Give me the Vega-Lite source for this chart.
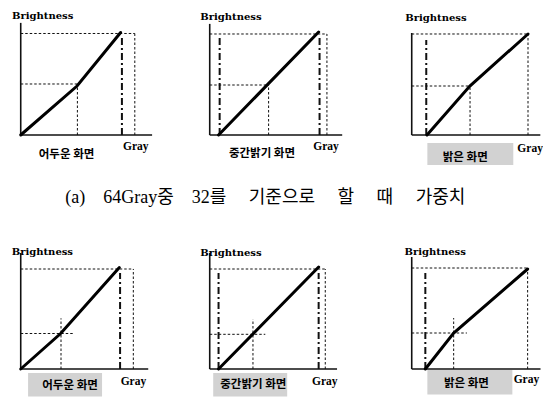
{
  "$schema": "https://vega.github.io/schema/vega-lite/v6.json",
  "padding": {"left": 6, "top": 8, "right": 0, "bottom": 0},
  "background": "white",
  "config": {"view": {"stroke": null}, "axis": {"disable": true}, "legend": {"disable": true}},
  "data": {"values": [
    {"p":1,"kind":"axis","x":0,"y":0,"x2":0,"y2":111},
    {"p":1,"kind":"axis","x":0,"y":0,"x2":71.4,"y2":0},
    {"p":1,"kind":"guide","x":0,"y":100.5,"x2":62,"y2":100.5},
    {"p":1,"kind":"guide","x":62,"y":0,"x2":62,"y2":100.5},
    {"p":1,"kind":"guide","x":0,"y":50.5,"x2":30.8,"y2":50.5},
    {"p":1,"kind":"guide","x":30.8,"y":0,"x2":30.8,"y2":50.5},
    {"p":1,"kind":"dashdot","x":55,"y":0,"x2":55,"y2":96},
    {"p":1,"kind":"curve","x":0,"y":0},
    {"p":1,"kind":"curve","x":30.6,"y":48.5},
    {"p":1,"kind":"curve","x":54.3,"y":101.5},
    {"p":1,"kind":"label","x":-4.7,"y":117.5,"label":"Brightness"},
    {"p":1,"kind":"xlabel","x":55.6,"y":-11.5,"label":"Gray"},
    {"p":1,"kind":"name","x":24.9,"y":-19.5,"label":"어두운 화면"},

    {"p":2,"kind":"axis","x":0,"y":0,"x2":0,"y2":110},
    {"p":2,"kind":"axis","x":0,"y":0,"x2":72,"y2":0},
    {"p":2,"kind":"guide","x":0,"y":100,"x2":63.7,"y2":100},
    {"p":2,"kind":"guide","x":63.7,"y":0,"x2":63.7,"y2":100},
    {"p":2,"kind":"guide","x":0,"y":49.5,"x2":32,"y2":49.5},
    {"p":2,"kind":"guide","x":32,"y":0,"x2":32,"y2":49.5},
    {"p":2,"kind":"dashdot","x":5.4,"y":0,"x2":5.4,"y2":96},
    {"p":2,"kind":"dashdot","x":59.7,"y":0,"x2":59.7,"y2":96},
    {"p":2,"kind":"curve","x":4.8,"y":0},
    {"p":2,"kind":"curve","x":59.2,"y":102},
    {"p":2,"kind":"label","x":-5.1,"y":117.3,"label":"Brightness"},
    {"p":2,"kind":"xlabel","x":56.3,"y":-11.9,"label":"Gray"},
    {"p":2,"kind":"name","x":28.4,"y":-18.8,"label":"중간밝기 화면"},
    {"p":2,"kind":"caption","x":30.2,"y":-62.4,"label":"(a)\u00a0\u00a0\u00a0\u00a064Gray중\u00a0\u00a0\u00a0\u00a032를\u00a0\u00a0\u00a0\u00a0\u00a0기준으로\u00a0\u00a0\u00a0\u00a0\u00a0할\u00a0\u00a0\u00a0\u00a0\u00a0때\u00a0\u00a0\u00a0\u00a0\u00a0가중치"},

    {"p":3,"kind":"box","x":8.5,"y":-7.9,"x2":55.2,"y2":-29.7},
    {"p":3,"kind":"axis","x":0,"y":0,"x2":0,"y2":101},
    {"p":3,"kind":"axis","x":0,"y":0,"x2":69.9,"y2":0},
    {"p":3,"kind":"guide","x":0,"y":100,"x2":63.2,"y2":100},
    {"p":3,"kind":"guide","x":63.2,"y":0,"x2":63.2,"y2":100},
    {"p":3,"kind":"guide","x":0,"y":48.5,"x2":31.7,"y2":48.5},
    {"p":3,"kind":"guide","x":31.7,"y":0,"x2":31.7,"y2":48.5},
    {"p":3,"kind":"dashdot","x":7.9,"y":0,"x2":7.9,"y2":94},
    {"p":3,"kind":"curve","x":8.3,"y":0},
    {"p":3,"kind":"curve","x":31.6,"y":48.5},
    {"p":3,"kind":"curve","x":63.2,"y":100},
    {"p":3,"kind":"label","x":-3.5,"y":115.5,"label":"Brightness"},
    {"p":3,"kind":"xlabel","x":57.4,"y":-13.9,"label":"Gray"},
    {"p":3,"kind":"name","x":29.1,"y":-23,"label":"밝은 화면"},

    {"p":4,"kind":"box","x":4,"y":-4,"x2":44.2,"y2":-27.5},
    {"p":4,"kind":"axis","x":0,"y":0,"x2":0,"y2":116},
    {"p":4,"kind":"axis","x":0,"y":0,"x2":69.3,"y2":0},
    {"p":4,"kind":"guide","x":0,"y":100,"x2":61.2,"y2":100},
    {"p":4,"kind":"guide","x":61.2,"y":0,"x2":61.2,"y2":100},
    {"p":4,"kind":"guide","x":0,"y":35.5,"x2":29,"y2":35.5},
    {"p":4,"kind":"guide","x":21.9,"y":0,"x2":21.9,"y2":50.7},
    {"p":4,"kind":"dashdot","x":54,"y":0,"x2":54,"y2":96},
    {"p":4,"kind":"curve","x":0,"y":0},
    {"p":4,"kind":"curve","x":21.7,"y":35.5},
    {"p":4,"kind":"curve","x":53.6,"y":101.5},
    {"p":4,"kind":"label","x":-4.9,"y":116.7,"label":"Brightness"},
    {"p":4,"kind":"xlabel","x":54.3,"y":-13.3,"label":"Gray"},
    {"p":4,"kind":"name","x":26.8,"y":-17,"label":"어두운 화면"},

    {"p":5,"kind":"box","x":1.9,"y":-4,"x2":42.1,"y2":-27.5},
    {"p":5,"kind":"axis","x":0,"y":0,"x2":0,"y2":116},
    {"p":5,"kind":"axis","x":0,"y":0,"x2":69.2,"y2":0},
    {"p":5,"kind":"guide","x":0,"y":100,"x2":62.8,"y2":100},
    {"p":5,"kind":"guide","x":62.8,"y":0,"x2":62.8,"y2":100},
    {"p":5,"kind":"guide","x":0,"y":34.7,"x2":30.2,"y2":34.7},
    {"p":5,"kind":"guide","x":23.5,"y":0,"x2":23.5,"y2":49.7},
    {"p":5,"kind":"dashdot","x":4.8,"y":0,"x2":4.8,"y2":96},
    {"p":5,"kind":"dashdot","x":59.2,"y":0,"x2":59.2,"y2":96},
    {"p":5,"kind":"curve","x":4.8,"y":0},
    {"p":5,"kind":"curve","x":59.2,"y":102},
    {"p":5,"kind":"label","x":-5.1,"y":115.7,"label":"Brightness"},
    {"p":5,"kind":"xlabel","x":55.6,"y":-13.3,"label":"Gray"},
    {"p":5,"kind":"name","x":23.7,"y":-16,"label":"중간밝기 화면"},

    {"p":6,"kind":"box","x":8.5,"y":-1,"x2":54.7,"y2":-25.5},
    {"p":6,"kind":"axis","x":0,"y":0,"x2":0,"y2":112},
    {"p":6,"kind":"axis","x":0,"y":0,"x2":70,"y2":0},
    {"p":6,"kind":"guide","x":0,"y":101,"x2":63,"y2":101},
    {"p":6,"kind":"guide","x":63,"y":0,"x2":63,"y2":101},
    {"p":6,"kind":"guide","x":0,"y":36,"x2":30,"y2":36},
    {"p":6,"kind":"guide","x":22.8,"y":0,"x2":22.8,"y2":51},
    {"p":6,"kind":"dashdot","x":7.4,"y":0,"x2":7.4,"y2":96},
    {"p":6,"kind":"curve","x":7.4,"y":0},
    {"p":6,"kind":"curve","x":22.8,"y":36},
    {"p":6,"kind":"curve","x":63,"y":100},
    {"p":6,"kind":"label","x":-3.9,"y":117,"label":"Brightness"},
    {"p":6,"kind":"xlabel","x":55.4,"y":-11.3,"label":"Gray"},
    {"p":6,"kind":"name","x":29.7,"y":-15,"label":"밝은 화면"}
  ]},
  "columns": 3,
  "spacing": {"row": 109, "column": 10},
  "bounds": "flush",
  "concat": [
      {"width": 178.68, "height": 127, "transform": [{"filter": "datum.p == 1"}],
       "encoding": {"x": {"field": "x", "type": "quantitative", "scale": {"domain": [-8, 89.11], "nice": false, "zero": false}},
                    "y": {"field": "y", "type": "quantitative", "scale": {"domain": [0, 125.74], "nice": false, "zero": false}}},
       "layer": [
        {"transform": [{"filter": "datum.kind == 'box'"}], "mark": {"type": "rect", "color": "#d2d2d2"}, "encoding": {"x2": {"field": "x2"}, "y2": {"field": "y2"}}},
        {"transform": [{"filter": "datum.kind == 'guide'"}], "mark": {"type": "rule", "color": "#111", "strokeWidth": 1, "strokeDash": [2.5, 2]}, "encoding": {"x2": {"field": "x2"}, "y2": {"field": "y2"}}},
        {"transform": [{"filter": "datum.kind == 'dashdot'"}], "mark": {"type": "rule", "color": "#111", "strokeWidth": 2, "strokeDash": [7, 3, 2, 3]}, "encoding": {"x2": {"field": "x2"}, "y2": {"field": "y2"}}},
        {"transform": [{"filter": "datum.kind == 'axis'"}], "mark": {"type": "rule", "color": "#111", "strokeWidth": 1.6}, "encoding": {"x2": {"field": "x2"}, "y2": {"field": "y2"}}},
        {"transform": [{"filter": "datum.kind == 'curve'"}], "mark": {"type": "line", "color": "#000", "strokeWidth": 3, "strokeCap": "round"}, "encoding": {}},
        {"transform": [{"filter": "datum.kind == 'label'"}], "mark": {"type": "text", "font": "DejaVu Serif", "fontWeight": "bold", "fontSize": 10, "align": "left", "baseline": "middle", "color": "#000"}, "encoding": {"text": {"field": "label"}}},
        {"transform": [{"filter": "datum.kind == 'xlabel'"}], "mark": {"type": "text", "font": "Liberation Serif", "fontWeight": "bold", "fontSize": 11.5, "align": "left", "baseline": "middle", "color": "#000"}, "encoding": {"text": {"field": "label"}}},
        {"transform": [{"filter": "datum.kind == 'name'"}], "mark": {"type": "text", "font": "Noto Sans CJK KR", "fontWeight": "bold", "fontSize": 11.5, "align": "center", "baseline": "middle", "color": "#000"}, "encoding": {"text": {"field": "label"}}}
       ]},
      {"width": 192, "height": 127, "transform": [{"filter": "datum.p == 2"}],
       "encoding": {"x": {"field": "x", "type": "quantitative", "scale": {"domain": [-8, 96.35], "nice": false, "zero": false}},
                    "y": {"field": "y", "type": "quantitative", "scale": {"domain": [0, 125.74], "nice": false, "zero": false}}},
       "layer": [
        {"transform": [{"filter": "datum.kind == 'box'"}], "mark": {"type": "rect", "color": "#d2d2d2"}, "encoding": {"x2": {"field": "x2"}, "y2": {"field": "y2"}}},
        {"transform": [{"filter": "datum.kind == 'guide'"}], "mark": {"type": "rule", "color": "#111", "strokeWidth": 1, "strokeDash": [2.5, 2]}, "encoding": {"x2": {"field": "x2"}, "y2": {"field": "y2"}}},
        {"transform": [{"filter": "datum.kind == 'dashdot'"}], "mark": {"type": "rule", "color": "#111", "strokeWidth": 2, "strokeDash": [7, 3, 2, 3]}, "encoding": {"x2": {"field": "x2"}, "y2": {"field": "y2"}}},
        {"transform": [{"filter": "datum.kind == 'axis'"}], "mark": {"type": "rule", "color": "#111", "strokeWidth": 1.6}, "encoding": {"x2": {"field": "x2"}, "y2": {"field": "y2"}}},
        {"transform": [{"filter": "datum.kind == 'curve'"}], "mark": {"type": "line", "color": "#000", "strokeWidth": 3, "strokeCap": "round"}, "encoding": {}},
        {"transform": [{"filter": "datum.kind == 'label'"}], "mark": {"type": "text", "font": "DejaVu Serif", "fontWeight": "bold", "fontSize": 10, "align": "left", "baseline": "middle", "color": "#000"}, "encoding": {"text": {"field": "label"}}},
        {"transform": [{"filter": "datum.kind == 'xlabel'"}], "mark": {"type": "text", "font": "Liberation Serif", "fontWeight": "bold", "fontSize": 11.5, "align": "left", "baseline": "middle", "color": "#000"}, "encoding": {"text": {"field": "label"}}},
        {"transform": [{"filter": "datum.kind == 'name'"}], "mark": {"type": "text", "font": "Noto Sans CJK KR", "fontWeight": "bold", "fontSize": 11.5, "align": "center", "baseline": "middle", "color": "#000"}, "encoding": {"text": {"field": "label"}}},
        {"transform": [{"filter": "datum.kind == 'caption'"}], "mark": {"type": "text", "font": "Liberation Serif, Noto Sans CJK KR", "fontSize": 18, "align": "center", "baseline": "middle", "color": "#000"}, "encoding": {"text": {"field": "label"}}}
       ]},
      {"width": 140, "height": 127, "transform": [{"filter": "datum.p == 3"}],
       "encoding": {"x": {"field": "x", "type": "quantitative", "scale": {"domain": [-8, 68.09], "nice": false, "zero": false}},
                    "y": {"field": "y", "type": "quantitative", "scale": {"domain": [0, 125.74], "nice": false, "zero": false}}},
       "layer": [
        {"transform": [{"filter": "datum.kind == 'box'"}], "mark": {"type": "rect", "color": "#d2d2d2"}, "encoding": {"x2": {"field": "x2"}, "y2": {"field": "y2"}}},
        {"transform": [{"filter": "datum.kind == 'guide'"}], "mark": {"type": "rule", "color": "#111", "strokeWidth": 1, "strokeDash": [2.5, 2]}, "encoding": {"x2": {"field": "x2"}, "y2": {"field": "y2"}}},
        {"transform": [{"filter": "datum.kind == 'dashdot'"}], "mark": {"type": "rule", "color": "#111", "strokeWidth": 2, "strokeDash": [7, 3, 2, 3]}, "encoding": {"x2": {"field": "x2"}, "y2": {"field": "y2"}}},
        {"transform": [{"filter": "datum.kind == 'axis'"}], "mark": {"type": "rule", "color": "#111", "strokeWidth": 1.6}, "encoding": {"x2": {"field": "x2"}, "y2": {"field": "y2"}}},
        {"transform": [{"filter": "datum.kind == 'curve'"}], "mark": {"type": "line", "color": "#000", "strokeWidth": 3, "strokeCap": "round"}, "encoding": {}},
        {"transform": [{"filter": "datum.kind == 'label'"}], "mark": {"type": "text", "font": "DejaVu Serif", "fontWeight": "bold", "fontSize": 10, "align": "left", "baseline": "middle", "color": "#000"}, "encoding": {"text": {"field": "label"}}},
        {"transform": [{"filter": "datum.kind == 'xlabel'"}], "mark": {"type": "text", "font": "Liberation Serif", "fontWeight": "bold", "fontSize": 11.5, "align": "left", "baseline": "middle", "color": "#000"}, "encoding": {"text": {"field": "label"}}},
        {"transform": [{"filter": "datum.kind == 'name'"}], "mark": {"type": "text", "font": "Noto Sans CJK KR", "fontWeight": "bold", "fontSize": 11.5, "align": "center", "baseline": "middle", "color": "#000"}, "encoding": {"text": {"field": "label"}}}
       ]},
      {"width": 178.68, "height": 125, "transform": [{"filter": "datum.p == 4"}],
       "encoding": {"x": {"field": "x", "type": "quantitative", "scale": {"domain": [-8, 89.11], "nice": false, "zero": false}},
                    "y": {"field": "y", "type": "quantitative", "scale": {"domain": [0, 125], "nice": false, "zero": false}}},
       "layer": [
        {"transform": [{"filter": "datum.kind == 'box'"}], "mark": {"type": "rect", "color": "#d2d2d2"}, "encoding": {"x2": {"field": "x2"}, "y2": {"field": "y2"}}},
        {"transform": [{"filter": "datum.kind == 'guide'"}], "mark": {"type": "rule", "color": "#111", "strokeWidth": 1, "strokeDash": [2.5, 2]}, "encoding": {"x2": {"field": "x2"}, "y2": {"field": "y2"}}},
        {"transform": [{"filter": "datum.kind == 'dashdot'"}], "mark": {"type": "rule", "color": "#111", "strokeWidth": 2, "strokeDash": [7, 3, 2, 3]}, "encoding": {"x2": {"field": "x2"}, "y2": {"field": "y2"}}},
        {"transform": [{"filter": "datum.kind == 'axis'"}], "mark": {"type": "rule", "color": "#111", "strokeWidth": 1.6}, "encoding": {"x2": {"field": "x2"}, "y2": {"field": "y2"}}},
        {"transform": [{"filter": "datum.kind == 'curve'"}], "mark": {"type": "line", "color": "#000", "strokeWidth": 3, "strokeCap": "round"}, "encoding": {}},
        {"transform": [{"filter": "datum.kind == 'label'"}], "mark": {"type": "text", "font": "DejaVu Serif", "fontWeight": "bold", "fontSize": 10, "align": "left", "baseline": "middle", "color": "#000"}, "encoding": {"text": {"field": "label"}}},
        {"transform": [{"filter": "datum.kind == 'xlabel'"}], "mark": {"type": "text", "font": "Liberation Serif", "fontWeight": "bold", "fontSize": 11.5, "align": "left", "baseline": "middle", "color": "#000"}, "encoding": {"text": {"field": "label"}}},
        {"transform": [{"filter": "datum.kind == 'name'"}], "mark": {"type": "text", "font": "Noto Sans CJK KR", "fontWeight": "bold", "fontSize": 11.5, "align": "center", "baseline": "middle", "color": "#000"}, "encoding": {"text": {"field": "label"}}}
       ]},
      {"width": 192, "height": 125, "transform": [{"filter": "datum.p == 5"}],
       "encoding": {"x": {"field": "x", "type": "quantitative", "scale": {"domain": [-8, 96.35], "nice": false, "zero": false}},
                    "y": {"field": "y", "type": "quantitative", "scale": {"domain": [0, 125], "nice": false, "zero": false}}},
       "layer": [
        {"transform": [{"filter": "datum.kind == 'box'"}], "mark": {"type": "rect", "color": "#d2d2d2"}, "encoding": {"x2": {"field": "x2"}, "y2": {"field": "y2"}}},
        {"transform": [{"filter": "datum.kind == 'guide'"}], "mark": {"type": "rule", "color": "#111", "strokeWidth": 1, "strokeDash": [2.5, 2]}, "encoding": {"x2": {"field": "x2"}, "y2": {"field": "y2"}}},
        {"transform": [{"filter": "datum.kind == 'dashdot'"}], "mark": {"type": "rule", "color": "#111", "strokeWidth": 2, "strokeDash": [7, 3, 2, 3]}, "encoding": {"x2": {"field": "x2"}, "y2": {"field": "y2"}}},
        {"transform": [{"filter": "datum.kind == 'axis'"}], "mark": {"type": "rule", "color": "#111", "strokeWidth": 1.6}, "encoding": {"x2": {"field": "x2"}, "y2": {"field": "y2"}}},
        {"transform": [{"filter": "datum.kind == 'curve'"}], "mark": {"type": "line", "color": "#000", "strokeWidth": 3, "strokeCap": "round"}, "encoding": {}},
        {"transform": [{"filter": "datum.kind == 'label'"}], "mark": {"type": "text", "font": "DejaVu Serif", "fontWeight": "bold", "fontSize": 10, "align": "left", "baseline": "middle", "color": "#000"}, "encoding": {"text": {"field": "label"}}},
        {"transform": [{"filter": "datum.kind == 'xlabel'"}], "mark": {"type": "text", "font": "Liberation Serif", "fontWeight": "bold", "fontSize": 11.5, "align": "left", "baseline": "middle", "color": "#000"}, "encoding": {"text": {"field": "label"}}},
        {"transform": [{"filter": "datum.kind == 'name'"}], "mark": {"type": "text", "font": "Noto Sans CJK KR", "fontWeight": "bold", "fontSize": 11.5, "align": "center", "baseline": "middle", "color": "#000"}, "encoding": {"text": {"field": "label"}}}
       ]},
      {"width": 140, "height": 125, "transform": [{"filter": "datum.p == 6"}],
       "encoding": {"x": {"field": "x", "type": "quantitative", "scale": {"domain": [-8, 68.09], "nice": false, "zero": false}},
                    "y": {"field": "y", "type": "quantitative", "scale": {"domain": [0, 125], "nice": false, "zero": false}}},
       "layer": [
        {"transform": [{"filter": "datum.kind == 'box'"}], "mark": {"type": "rect", "color": "#d2d2d2"}, "encoding": {"x2": {"field": "x2"}, "y2": {"field": "y2"}}},
        {"transform": [{"filter": "datum.kind == 'guide'"}], "mark": {"type": "rule", "color": "#111", "strokeWidth": 1, "strokeDash": [2.5, 2]}, "encoding": {"x2": {"field": "x2"}, "y2": {"field": "y2"}}},
        {"transform": [{"filter": "datum.kind == 'dashdot'"}], "mark": {"type": "rule", "color": "#111", "strokeWidth": 2, "strokeDash": [7, 3, 2, 3]}, "encoding": {"x2": {"field": "x2"}, "y2": {"field": "y2"}}},
        {"transform": [{"filter": "datum.kind == 'axis'"}], "mark": {"type": "rule", "color": "#111", "strokeWidth": 1.6}, "encoding": {"x2": {"field": "x2"}, "y2": {"field": "y2"}}},
        {"transform": [{"filter": "datum.kind == 'curve'"}], "mark": {"type": "line", "color": "#000", "strokeWidth": 3, "strokeCap": "round"}, "encoding": {}},
        {"transform": [{"filter": "datum.kind == 'label'"}], "mark": {"type": "text", "font": "DejaVu Serif", "fontWeight": "bold", "fontSize": 10, "align": "left", "baseline": "middle", "color": "#000"}, "encoding": {"text": {"field": "label"}}},
        {"transform": [{"filter": "datum.kind == 'xlabel'"}], "mark": {"type": "text", "font": "Liberation Serif", "fontWeight": "bold", "fontSize": 11.5, "align": "left", "baseline": "middle", "color": "#000"}, "encoding": {"text": {"field": "label"}}},
        {"transform": [{"filter": "datum.kind == 'name'"}], "mark": {"type": "text", "font": "Noto Sans CJK KR", "fontWeight": "bold", "fontSize": 11.5, "align": "center", "baseline": "middle", "color": "#000"}, "encoding": {"text": {"field": "label"}}}
       ]}
  ]
}
